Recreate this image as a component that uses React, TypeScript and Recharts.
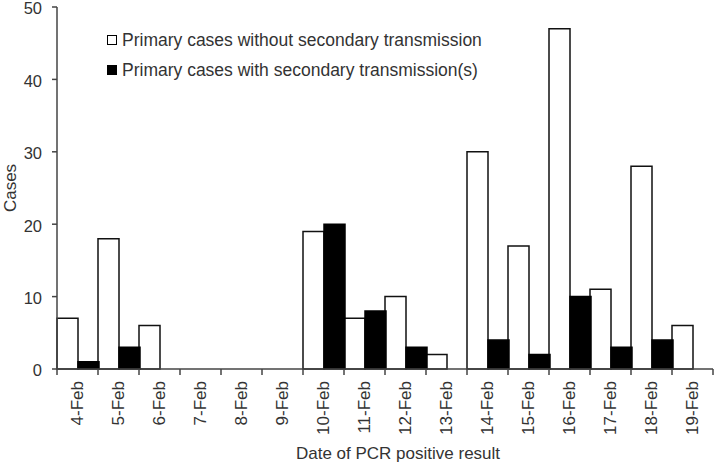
import React from "react";
import { BarChart, Bar, XAxis, YAxis, Legend, Label } from "recharts";

const dates = [
  "4-Feb", "5-Feb", "6-Feb", "7-Feb", "8-Feb", "9-Feb", "10-Feb", "11-Feb",
  "12-Feb", "13-Feb", "14-Feb", "15-Feb", "16-Feb", "17-Feb", "18-Feb", "19-Feb",
];
const withoutSecondary = [7, 18, 6, 0, 0, 0, 19, 7, 10, 2, 30, 17, 47, 11, 28, 6];
const withSecondary = [1, 3, 0, 0, 0, 0, 20, 8, 3, 0, 4, 2, 10, 3, 4, 0];
const yTicks = [0, 10, 20, 30, 40, 50];

const data = dates.map((date, i) => ({
  date,
  without: withoutSecondary[i],
  with: withSecondary[i],
}));

const W = 714;
const H = 465;
const LEFT = 57;
const RIGHT = 1;
const BAND = (W - LEFT - RIGHT) / dates.length;
const FONT = "'Liberation Sans', Arial, sans-serif";
const TEXT = "#333";
const AXIS = "#444";

// tick marks sit on the category boundaries, labels are rotated under the centre
function DateTick(props: any) {
  const { x, y, payload, index } = props;
  const left = x - BAND / 2;
  return (
    <g>
      <line x1={left} y1={y} x2={left} y2={y + 6} stroke={AXIS} strokeWidth={1.5} />
      {index === dates.length - 1 && (
        <line x1={x + BAND / 2} y1={y} x2={x + BAND / 2} y2={y + 6} stroke={AXIS} strokeWidth={1.5} />
      )}
      <text
        x={x}
        y={y + 12}
        dy="0.35em"
        transform={`rotate(-90, ${x}, ${y + 12})`}
        textAnchor="end"
        fill={TEXT}
        fontSize={17}
        fontFamily={FONT}
      >
        {payload.value}
      </text>
    </g>
  );
}

function CaseLegend() {
  const items = [
    { label: "Primary cases without secondary transmission", fill: "#fff" },
    { label: "Primary cases with secondary transmission(s)", fill: "#000" },
  ];
  return (
    <div style={{ fontFamily: FONT, fontSize: 17.5, color: TEXT }}>
      {items.map((it) => (
        <div key={it.label} style={{ height: 30, lineHeight: "30px", display: "flex", alignItems: "center", whiteSpace: "nowrap" }}>
          <span
            style={{
              display: "inline-block",
              width: 8,
              height: 8,
              background: it.fill,
              border: "1px solid #000",
              marginRight: 5,
            }}
          />
          {it.label}
        </div>
      ))}
    </div>
  );
}

export default function App() {
  return (
    <div style={{ position: "absolute", left: 0, top: 0, background: "#fff" }}>
      <BarChart
        width={W}
        height={H}
        data={data}
        margin={{ top: 7, right: RIGHT, bottom: 0, left: 0 }}
        barCategoryGap={0}
        barGap={0}
      >
        <XAxis
          dataKey="date"
          height={96}
          interval={0}
          tickSize={0}
          tickMargin={0}
          tick={<DateTick />}
          axisLine={{ stroke: AXIS, strokeWidth: 1.5 }}
        >
          <Label
            value="Date of PCR positive result"
            position="insideBottom"
            offset={6}
            dx={13}
            style={{ fill: TEXT, fontSize: 17, fontFamily: FONT }}
          />
        </XAxis>
        <XAxis xAxisId="top" dataKey="date" orientation="top" height={0} tick={false} tickLine={false} axisLine={{ stroke: AXIS, strokeWidth: 1.5 }} />
        <YAxis
          width={LEFT}
          domain={[0, 50]}
          ticks={yTicks}
          interval={0}
          tickSize={5}
          tickMargin={10}
          tick={{ fill: TEXT, fontSize: 16.5, fontFamily: FONT, dy: 1.5 }}
          tickLine={{ stroke: AXIS, strokeWidth: 1.5 }}
          axisLine={{ stroke: AXIS, strokeWidth: 1.5 }}
        >
          <Label
            value="Cases"
            angle={-90}
            position="insideLeft"
            offset={10}
            style={{ fill: TEXT, fontSize: 17, fontFamily: FONT, textAnchor: "middle" }}
          />
        </YAxis>
        <YAxis yAxisId="right" orientation="right" width={0} domain={[0, 50]} tick={false} tickLine={false} axisLine={{ stroke: AXIS, strokeWidth: 1.5 }} />
        <Legend
          layout="vertical"
          align="center"
          verticalAlign="middle"
          content={<CaseLegend />}
          wrapperStyle={{ left: 107, top: 25, width: "auto" }}
        />
        <Bar dataKey="without" fill="#fff" stroke="#111" strokeWidth={1.5} isAnimationActive={false} />
        <Bar dataKey="with" fill="#000" stroke="#000" strokeWidth={1.5} isAnimationActive={false} />
      </BarChart>
    </div>
  );
}
